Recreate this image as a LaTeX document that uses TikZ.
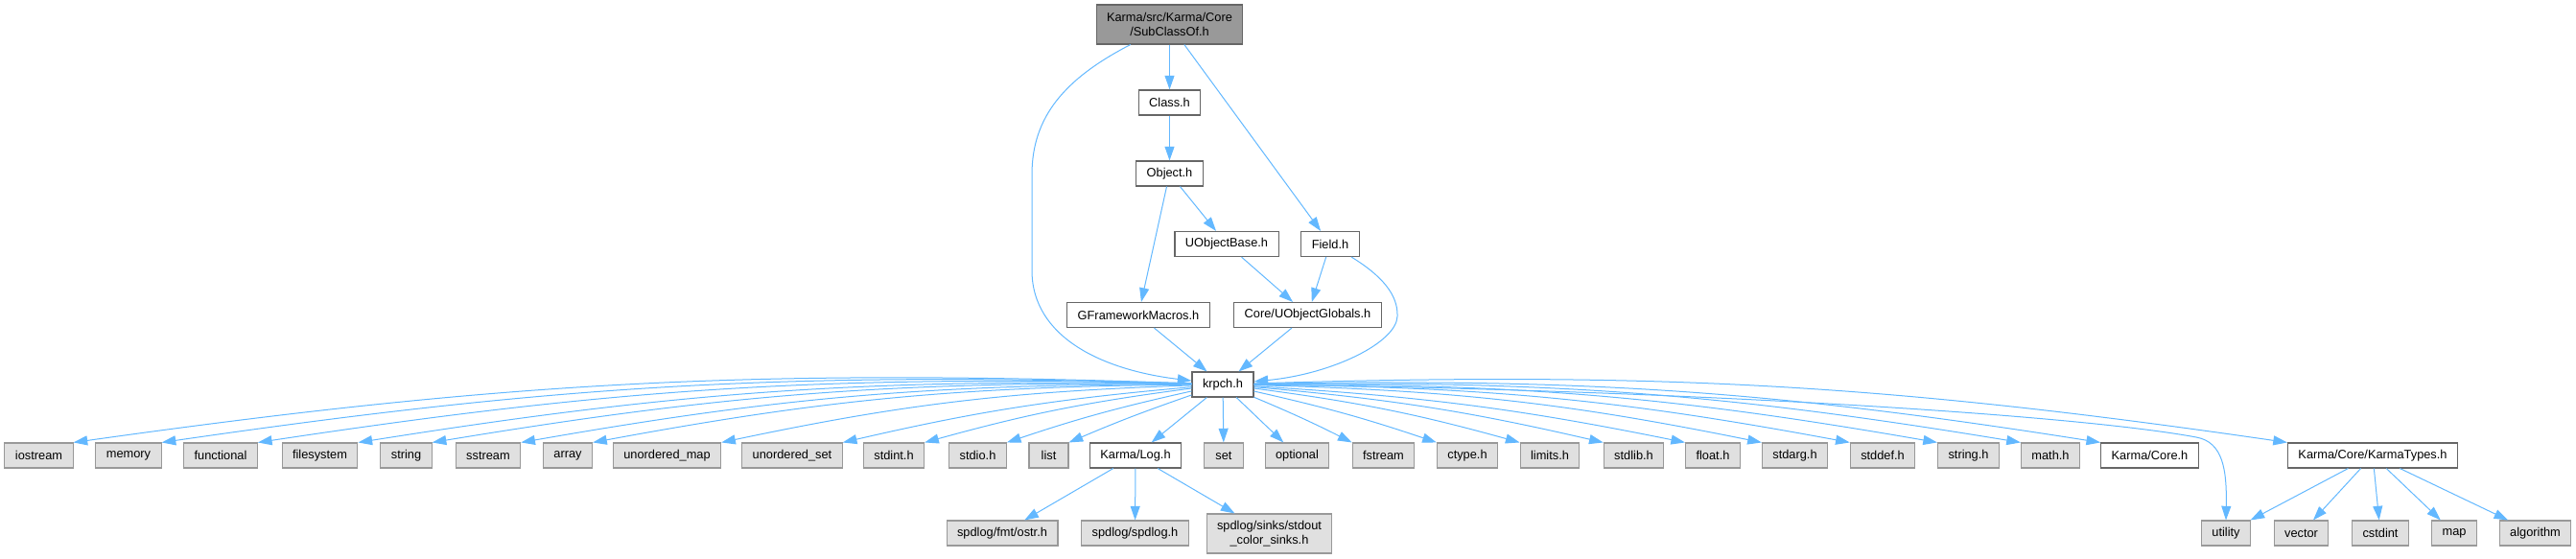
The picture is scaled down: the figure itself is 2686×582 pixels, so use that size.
\documentclass[tikz,border=0pt]{standalone}
\usepackage{fontspec}
\setmainfont{Liberation Sans}
\usetikzlibrary{arrows.meta}
\definecolor[named]{EdgeBlue}{HTML}{63B8FF}
\definecolor[named]{SysFill}{HTML}{E0E0E0}
\definecolor[named]{SysLine}{HTML}{999999}
\definecolor[named]{HdrLine}{HTML}{666666}
\definecolor[named]{RootFill}{HTML}{999999}
\tikzset{
  hdr/.style={draw=HdrLine,fill=white,line width=0.8pt,
    minimum height=19.5pt,minimum width=30.75pt,inner xsep=8.25pt,inner ysep=0pt,
    font=\fontsize{9.6}{11.25}\selectfont,align=center},
  sys/.style={hdr,draw=SysLine,fill=SysFill},
  rootbox/.style={hdr,fill=RootFill,minimum height=30.75pt},
  dep/.style={draw=EdgeBlue,line width=0.75pt,-{Triangle[length=11pt,width=7.5pt]}}
}

\begin{document}
\begin{tikzpicture}[x=0.75pt,y=0.75pt]
    \useasboundingbox (0,0) rectangle (2686,582);

    % Upper part of the graph
    \node[rootbox] (SC) at (1219.5,556.5) {Karma/src/Karma/Core\\/SubClassOf.h};
    \node[hdr] (CL) at (1219.5,475) {Class.h};
    \node[hdr] (OB) at (1219.5,401) {Object.h};
    \node[hdr] (UB) at (1279,327.5) {UObjectBase.h};
    \node[hdr] (FD) at (1387,327.5) {Field.h};
    \node[hdr] (GM) at (1187,253.5) {GFrameworkMacros.h};
    \node[hdr] (UG) at (1363.5,253.5) {Core/UObjectGlobals.h};
    \node[hdr] (KR) at (1275,181) {krpch.h};

    % Headers pulled in by krpch.h
    \node[sys] (IOS) at (40.5,107) {iostream};
    \node[sys] (MEM) at (134,107) {memory};
    \node[sys] (FUN) at (230,107) {functional};
    \node[sys] (FSY) at (333.5,107) {filesystem};
    \node[sys] (STR) at (423.5,107) {string};
    \node[sys] (SST) at (509,107) {sstream};
    \node[sys] (ARR) at (592,107) {array};
    \node[sys] (UMP) at (695.5,107) {unordered\_map};
    \node[sys] (UST) at (826,107) {unordered\_set};
    \node[sys] (SIN) at (932,107) {stdint.h};
    \node[sys] (SIO) at (1019.5,107) {stdio.h};
    \node[sys] (LST) at (1093.5,107) {list};
    \node[hdr] (LOG) at (1184,107) {Karma/Log.h};
    \node[sys] (SET) at (1276,107) {set};
    \node[sys] (OPT) at (1352.5,107) {optional};
    \node[sys] (FST) at (1442.5,107) {fstream};
    \node[sys] (CTY) at (1530,107) {ctype.h};
    \node[sys] (LIM) at (1616,107) {limits.h};
    \node[sys] (SLB) at (1703.5,107) {stdlib.h};
    \node[sys] (FLT) at (1786,107) {float.h};
    \node[sys] (SAR) at (1871.5,107) {stdarg.h};
    \node[sys] (SDF) at (1963,107) {stddef.h};
    \node[sys] (STH) at (2052.5,107) {string.h};
    \node[sys] (MTH) at (2138,107) {math.h};
    \node[hdr] (KCO) at (2241.5,107) {Karma/Core.h};
    \node[hdr] (KTY) at (2474,107) {Karma/Core/KarmaTypes.h};

    % Lowest row
    \node[sys] (OST) at (1045,26) {spdlog/fmt/ostr.h};
    \node[sys] (SPD) at (1183.5,26) {spdlog/spdlog.h};
    \node[sys,minimum height=30.75pt] (SNK) at (1323.5,25.5) {spdlog/sinks/stdout\\\_color\_sinks.h};
    \node[sys] (UTL) at (2321,26) {utility};
    \node[sys] (VEC) at (2399.5,26) {vector};
    \node[sys] (CSI) at (2482,26) {cstdint};
    \node[sys] (MAP) at (2559,26) {map};
    \node[sys] (ALG) at (2643.5,26) {algorithm};

    % Upper edges
    \draw[dep] (SC) -- (CL);
    \draw[dep] (SC) -- (FD);
    \draw[dep] (SC) .. controls (1110,500) and (1076,460) .. (1076,400) -- (1076,300)
      .. controls (1076,230) and (1150,196) .. (KR);
    \draw[dep] (CL) -- (OB);
    \draw[dep] (OB) -- (GM);
    \draw[dep] (OB) -- (UB);
    \draw[dep] (UB) -- (UG);
    \draw[dep] (FD) -- (UG);
    \draw[dep] (FD) .. controls (1440,295) and (1458,275) .. (1457,252)
      .. controls (1456,225) and (1390,192) .. (KR);
    \draw[dep] (GM) -- (KR);
    \draw[dep] (UG) -- (KR);

    % krpch.h, to the left
    \draw[dep] (KR) to[bend right=5] (IOS.north east);
    \draw[dep] (KR) to[bend right=5] (MEM.north east);
    \draw[dep] (KR) to[bend right=5] (FUN.north east);
    \draw[dep] (KR) to[bend right=5] (FSY.north east);
    \draw[dep] (KR) to[bend right=5] (STR.north east);
    \draw[dep] (KR) to[bend right=5] (SST.north east);
    \draw[dep] (KR) to[bend right=5] (ARR.north east);
    \draw[dep] (KR) to[bend right=5] (UMP.north east);
    \draw[dep] (KR) to[bend right=4] (UST.north east);
    \draw[dep] (KR) to[bend right=4] (SIN.north east);
    \draw[dep] (KR) to[bend right=3] (SIO.north east);
    \draw[dep] (KR) to[bend right=2] (LST.north east);
    \draw[dep] (KR) -- (LOG);
    \draw[dep] (KR) -- (SET);
    \draw[dep] (KR) -- (OPT);

    % krpch.h, to the right
    \draw[dep] (KR) to[bend left=2] (FST.north west);
    \draw[dep] (KR) to[bend left=3] (CTY.north west);
    \draw[dep] (KR) to[bend left=4] (LIM.north west);
    \draw[dep] (KR) to[bend left=4] (SLB.north west);
    \draw[dep] (KR) to[bend left=4] (FLT.north west);
    \draw[dep] (KR) to[bend left=5] (SAR.north west);
    \draw[dep] (KR) to[bend left=5] (SDF.north west);
    \draw[dep] (KR) to[bend left=5] (STH.north west);
    \draw[dep] (KR) to[bend left=5] (MTH.north west);
    \draw[dep] (KR) to[bend left=5] (KCO.north west);
    \draw[dep] (KR) to[bend left=5] (KTY.north west);
    \draw[dep] (KR) .. controls (1700,177) and (2150,152) .. (2290,126)
      .. controls (2318,121) and (2322,92) .. (UTL.north);

    % Lowest edges
    \draw[dep] (LOG) -- (OST);
    \draw[dep] (LOG) -- (SPD);
    \draw[dep] (LOG) -- (SNK);
    \draw[dep] (KTY) -- (UTL);
    \draw[dep] (KTY) -- (VEC);
    \draw[dep] (KTY) -- (CSI);
    \draw[dep] (KTY) -- (MAP);
    \draw[dep] (KTY) -- (ALG);

\end{tikzpicture}
\end{document}
